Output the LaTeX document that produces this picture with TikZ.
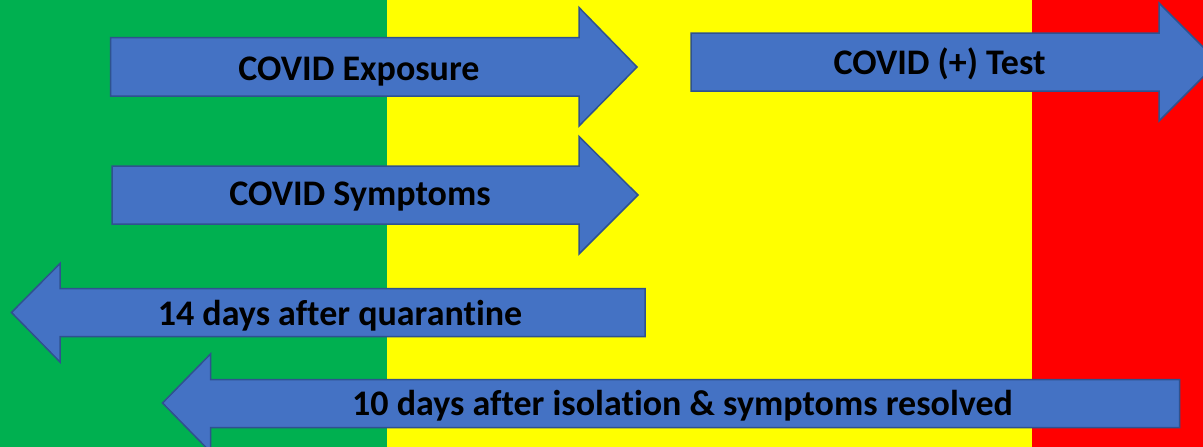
\documentclass[tikz,border=0pt]{standalone}
\usepackage{fontspec}
\setmainfont[RawFeature={-liga;-clig;-dlig}]{Carlito}
\begin{document}
\begin{tikzpicture}[x=1pt,y=-1pt,
  arrowbody/.style={fill=arrowblue,draw=arrowedge,line width=1.5pt,line join=miter},
  lbl/.style={inner sep=0pt,font=\fontsize{36}{40}\selectfont\bfseries,text=black,anchor=base}]
\definecolor{zgreen}{HTML}{00B050}
\definecolor{zyellow}{HTML}{FFFF00}
\definecolor{zred}{HTML}{FF0000}
\definecolor{arrowblue}{HTML}{4472C4}
\definecolor{arrowedge}{HTML}{2F528F}
\useasboundingbox (0,0) rectangle (1203,447);
\clip (0,0) rectangle (1203,447);
% background zones
\fill[zgreen] (0,0) rectangle (387,447);
\fill[zyellow] (387,0) rectangle (1032,447);
\fill[zred] (1032,0) rectangle (1203,447);
% COVID Exposure
\draw[arrowbody] (110.5,37.5) -- (579,37.5) -- (579,7.5) -- (637,67) -- (579,126) -- (579,96) -- (110.5,96) -- cycle;
\node[lbl] (exposure) at (359,80) {COVID Exposure};
% COVID (+) Test
\draw[arrowbody] (691,33) -- (1159,33) -- (1159,3) -- (1218,62) -- (1159,121) -- (1159,91) -- (691,91) -- cycle;
\node[lbl] (test) at (939.5,74.5) {COVID (+) Test};
% COVID Symptoms
\draw[arrowbody] (112,166) -- (579,166) -- (579,136.5) -- (638,195) -- (579,254) -- (579,224) -- (112,224) -- cycle;
\node[lbl] (symptoms) at (360,205.5) {COVID Symptoms};
% 14 days
\draw[arrowbody] (645,288.5) -- (60,288.5) -- (60,263.5) -- (11.5,312.5) -- (60,362) -- (60,336.5) -- (645,336.5) -- cycle;
\node[lbl] (quarantine) at (340,325) {14 days after quarantine};
% 10 days
\draw[arrowbody] (1179.5,379.5) -- (210.5,379.5) -- (210.5,354) -- (162.5,403) -- (210.5,452) -- (210.5,427.5) -- (1179.5,427.5) -- cycle;
\node[lbl] (isolation) at (682.5,415.5) {10 days after isolation \& symptoms resolved};
\end{tikzpicture}
\end{document}
